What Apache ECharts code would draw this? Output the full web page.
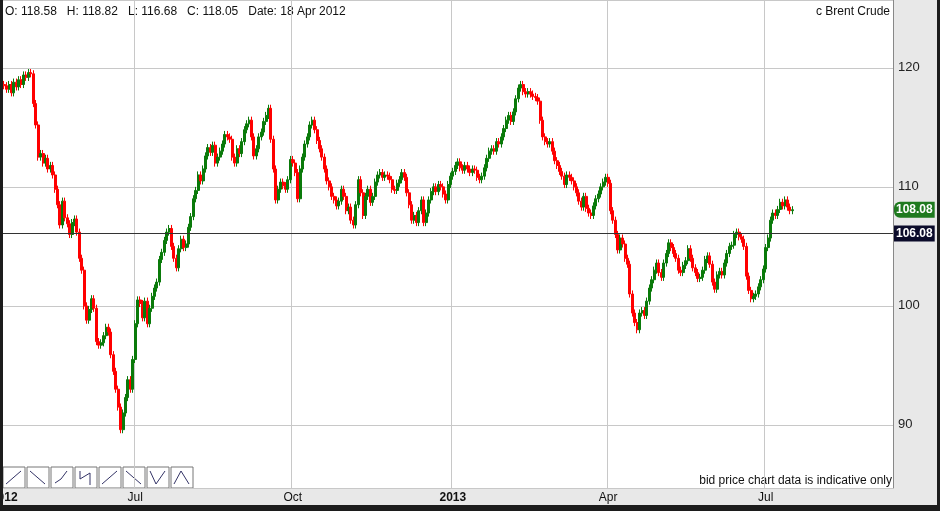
<!DOCTYPE html>
<html><head><meta charset="utf-8">
<script src="https://cdn.jsdelivr.net/npm/echarts@6/dist/echarts.min.js"></script>
<style>html,body{margin:0;padding:0;background:#1c1c1c;width:940px;height:511px;overflow:hidden}
#c{position:absolute;left:3px;top:0;width:934px;height:505px;background:#e8e8e8}</style>
</head><body><div id="c"></div>
<script>
const startDate = '2012-04-17';
const endDate = '2013-09-11';
const closes = [
118.5,118.2,118.6,117.9,118.8,118.4,119.0,118.6,119.4,119.2,119.6,119.5,117.0,115.2,112.5,112.8,112.0,112.4,111.5,111.8,111.0,109.8,108.5,106.8,108.8,107.4,106.9,106.0,107.0,107.3,106.2,104.0,103.0,100.0,98.8,99.7,100.6,99.8,97.0,96.7,96.9,97.5,98.2,97.8,95.9,94.5,93.0,91.5,89.6,91.0,92.3,93.8,93.0,95.5,
98.5,100.5,100.2,99.0,100.4,98.5,99.8,100.8,101.5,102.0,103.9,104.5,105.5,106.2,106.5,105.0,104.0,103.2,104.8,105.6,104.9,105.2,106.6,107.5,109.0,109.7,111.0,110.5,111.5,112.6,113.3,112.9,113.5,112.0,112.5,113.0,113.6,114.4,114.2,114.0,112.5,112.0,113.2,112.8,113.8,114.8,115.3,115.6,114.2,112.6,113.2,114.2,114.6,115.5,116.0,116.6,114.0,111.5,108.9,109.8,110.4,110.1,109.8,110.6,112.3,
112.0,111.2,109.0,111.5,112.5,113.6,114.2,115.2,115.6,114.8,113.9,113.2,112.5,111.5,110.5,110.0,109.2,108.9,108.4,108.8,109.8,109.2,108.0,108.3,107.2,106.8,108.5,110.6,109.5,107.6,109.2,109.8,108.7,109.2,110.4,111.0,111.2,110.8,111.0,110.9,110.6,109.8,109.7,110.3,110.6,111.2,110.8,109.5,108.5,107.2,107.6,107.0,108.0,108.9,107.0,107.8,108.9,109.6,110.0,109.6,110.2,110.0,109.4,108.9,110.2,110.9,
111.3,111.8,112.1,111.6,111.4,111.8,111.5,111.2,111.5,111.4,110.8,110.6,110.9,111.6,112.4,113.0,113.2,113.0,113.8,113.6,114.2,114.9,115.6,116.0,115.5,116.3,117.4,118.3,118.6,118.0,117.8,118.0,117.8,117.6,117.5,117.2,115.6,114.2,113.8,113.6,113.8,113.0,112.2,111.8,111.3,110.9,110.2,111.0,110.8,110.5,110.0,109.5,108.8,108.3,109.2,108.2,107.8,107.6,108.4,109.0,109.4,110.0,110.4,
110.8,110.3,108.0,107.2,106.0,104.7,105.7,105.2,104.0,103.5,101.0,99.4,98.6,98.0,99.4,99.6,99.2,100.4,101.5,102.2,103.0,103.6,102.8,102.4,103.6,104.4,105.3,104.9,104.4,104.0,103.0,102.8,103.4,103.8,104.8,104.0,103.2,102.8,102.3,102.4,103.0,103.9,104.2,103.5,102.0,101.4,102.6,102.9,102.6,103.6,104.4,105.0,105.1,106.0,106.2,105.8,105.6,105.0,102.5,101.3,100.6,100.8,101.0,101.6,102.2,
103.1,104.9,105.7,107.2,107.8,107.6,108.1,108.7,108.4,108.9,108.3,108.0,108.08];
const firstOpen = 118.6;
const wick = 0.3;
const refLine = 106.08;
const lastPrice = 108.08;
const yTicks = [90,100,110,120];
const monthNames = ['Jan','Feb','Mar','Apr','May','Jun','Jul','Aug','Sep','Oct','Nov','Dec'];

const cats = [];
for (let d = new Date(startDate+'T00:00:00Z'); d <= new Date(endDate+'T00:00:00Z'); d.setUTCDate(d.getUTCDate()+1)) {
  const w = d.getUTCDay(); if (w===0||w===6) continue;
  cats.push(d.toISOString().slice(0,10));
}
const qStart = new Set();
let prevM = null;
cats.forEach((c,i)=>{const m=+c.slice(5,7); if(prevM!==null && m!==prevM && (m-1)%3===0) qStart.add(i); prevM=m;});
const ohlc = closes.map((c,i)=>{const o = i===0?firstOpen:closes[i-1]; return [o,c,Math.min(o,c)-wick,Math.max(o,c)+wick];});

const chart = echarts.init(document.getElementById('c'));
const F = 'Liberation Sans, Arial, sans-serif';
function btn(x, glyph){
  return {type:'group', children:[
    {type:'rect', shape:{x:x,y:467,width:22,height:21}, style:{fill:'#fff',stroke:'#777',lineWidth:1}},
    {type:'polyline', shape:{points:glyph.map(p=>[x+p[0],467+p[1]])}, style:{stroke:'#336',fill:null,lineWidth:1}}
  ]};
}
chart.setOption({
  animation:false,
  textStyle:{fontFamily:F},
  grid:{left:0,top:0,right:44,bottom:17,show:true,backgroundColor:'#fff',borderWidth:0,outerBoundsMode:'none',containLabel:false},
  xAxis:{type:'category',data:cats,boundaryGap:true,
    axisLine:{show:false},axisTick:{show:false},
    axisLabel:{interval:(i)=>i===0||qStart.has(i),color:'#111',fontSize:12,margin:4,hideOverlap:false,
      formatter:(v,i)=>{const m=+v.slice(5,7); if(i===0) return '{b|'+v.slice(0,4)+'}'; return m===1?'{b|'+v.slice(0,4)+'}':'{n|'+monthNames[m-1]+'}';},
      rich:{b:{fontWeight:'bold',fontSize:12,color:'#111',fontFamily:F},n:{fontSize:12,color:'#111',fontFamily:F}}},
    splitLine:{show:true,interval:(i)=>qStart.has(i),lineStyle:{color:'#c8c8c8'}}},
  yAxis:{type:'value',position:'right',min:84.7,max:125.7,scale:true,
    axisLine:{show:true,lineStyle:{color:'#888'}},axisTick:{show:false},
    axisLabel:{color:'#222',fontSize:13,margin:5,showMinLabel:false,showMaxLabel:false,
      formatter:(v)=>yTicks.includes(v)?String(v):''},
    splitLine:{show:true,lineStyle:{color:'#c8c8c8'}}},
  series:[{type:'candlestick',data:ohlc,barWidth:2.5,
    itemStyle:{color:'#0a7a0a',color0:'#ff0000',borderColor:'#0a7a0a',borderColor0:'#ff0000',borderWidth:1},
    markLine:{symbol:'none',silent:true,animation:false,data:[
      {yAxis:refLine,lineStyle:{color:'#333',width:1,type:'solid'},
        label:{position:'end',formatter:refLine.toFixed(2),color:'#fff',backgroundColor:'#0b0b2a',padding:[2,2],fontSize:12,fontWeight:'bold',distance:1}},
      {yAxis:lastPrice,lineStyle:{color:'rgba(0,0,0,0)',width:1},
        label:{position:'end',formatter:lastPrice.toFixed(2),color:'#fff',backgroundColor:'#1f7a1f',borderRadius:[6,0,0,6],padding:[2,2],fontSize:12,fontWeight:'bold',distance:1}}
    ]}}],
  graphic:[
    {type:'text',left:2,top:6,style:{text:'O: 118.58   H: 118.82   L: 116.68   C: 118.05   Date: 18 Apr 2012',font:'12px '+F,fill:'#111'}},
    {type:'text',right:47,top:6,style:{text:'c Brent Crude',font:'12px '+F,fill:'#111'}},
    {type:'text',right:45,top:475,style:{text:'bid price chart data is indicative only',font:'12px '+F,fill:'#111'}},
    btn(0,[[3,17],[18,4]]), btn(24,[[3,4],[18,17]]), btn(48,[[4,16],[10,12],[16,4]]), btn(72,[[5,4],[5,12],[15,6],[15,18]]),
    btn(96,[[3,17],[18,4]]), btn(120,[[3,4],[18,17]]), btn(144,[[3,4],[9,17],[18,4]]), btn(168,[[3,17],[10,4],[18,17]])
  ]
});
</script></body></html>
